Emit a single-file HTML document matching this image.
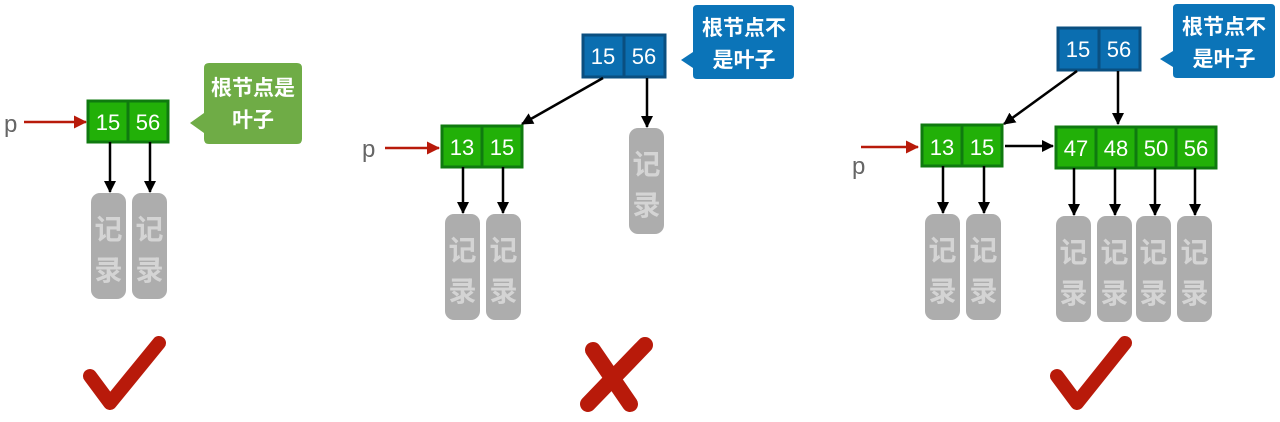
<!DOCTYPE html>
<html><head><meta charset="utf-8"><style>
html,body{margin:0;padding:0;background:#fff;width:1280px;height:422px;overflow:hidden}
svg{display:block}
.n{font-family:"Liberation Sans",sans-serif;font-size:22px;fill:#fff;text-anchor:middle}
.r{font-family:"Liberation Sans","Noto Sans CJK SC",sans-serif;font-size:28px;font-weight:bold;fill:#d4d4d4;text-anchor:middle}
.c{font-family:"Liberation Sans","Noto Sans CJK SC",sans-serif;font-size:21px;font-weight:bold;fill:#fff;text-anchor:middle}
.p{font-family:"Liberation Sans",sans-serif;font-size:24px;fill:#666}
</style></head><body>
<svg width="1280" height="422" viewBox="0 0 1280 422" xmlns="http://www.w3.org/2000/svg">
<defs>
<marker id="a" markerWidth="12" markerHeight="12" refX="11" refY="6" orient="auto" markerUnits="userSpaceOnUse"><path d="M0,0 L12,6 L0,12 z" fill="#000"/></marker>
<marker id="ra" markerWidth="13" markerHeight="13" refX="12" refY="6.5" orient="auto" markerUnits="userSpaceOnUse"><path d="M0,0 L13,6.5 L0,13 z" fill="#b81a0a"/></marker>
<g id="rec"><rect x="0" y="0" width="35" height="106" rx="9" fill="#adadad"/><text class="r" x="17.5" y="46">记</text><text class="r" x="17.5" y="87">录</text></g>
<g id="g"><rect x="0" y="0" width="40" height="41" fill="#22b008" stroke="#0f7a0f" stroke-width="3"/></g>
<g id="b"><rect x="0" y="0" width="41" height="42" fill="#0b6eb0" stroke="#0a4f80" stroke-width="3"/></g>
</defs>

<!-- Panel 1 -->
<text class="p" x="4" y="132">p</text>
<line x1="24" y1="122" x2="86" y2="122" stroke="#b81a0a" stroke-width="2.5" marker-end="url(#ra)"/>
<use href="#g" x="88" y="101"/><use href="#g" x="128" y="101"/>
<text class="n" x="108" y="130">15</text><text class="n" x="148" y="130">56</text>
<path d="M190,123 L204,113 L204,68 Q204,63 209,63 L297,63 Q302,63 302,68 L302,139 Q302,144 297,144 L209,144 Q204,144 204,139 L204,133 Z" fill="#6fac46"/>
<text class="c" x="253" y="95">根节点是</text><text class="c" x="253" y="127">叶子</text>
<line x1="110" y1="142" x2="110" y2="192" stroke="#000" stroke-width="2.5" marker-end="url(#a)"/>
<line x1="150" y1="142" x2="150" y2="192" stroke="#000" stroke-width="2.5" marker-end="url(#a)"/>
<use href="#rec" x="91" y="193"/><use href="#rec" x="132" y="193"/>
<path d="M90,376 L110,403 L159,343" fill="none" stroke="#b81a0a" stroke-width="14" stroke-linejoin="round" stroke-linecap="round"/>

<!-- Panel 2 -->
<use href="#b" x="583" y="35"/><use href="#b" x="624" y="35"/>
<text class="n" x="603" y="64">15</text><text class="n" x="644" y="64">56</text>
<path d="M681,60 L693,52 L693,9 Q693,5 697,5 L790,5 Q794,5 794,9 L794,75 Q794,79 790,79 L697,79 Q693,79 693,75 L693,68 Z" fill="#0b74b8"/>
<text class="c" x="744" y="35">根节点不</text><text class="c" x="744" y="67">是叶子</text>
<line x1="603" y1="78" x2="522" y2="124" stroke="#000" stroke-width="2.5" marker-end="url(#a)"/>
<line x1="647" y1="78" x2="647" y2="127" stroke="#000" stroke-width="2.5" marker-end="url(#a)"/>
<use href="#rec" x="629" y="128"/>
<text class="p" x="362" y="157">p</text>
<line x1="385" y1="148" x2="439" y2="148" stroke="#b81a0a" stroke-width="2.5" marker-end="url(#ra)"/>
<use href="#g" x="442" y="126"/><use href="#g" x="482" y="126"/>
<text class="n" x="462" y="155">13</text><text class="n" x="502" y="155">15</text>
<line x1="463" y1="167" x2="463" y2="213" stroke="#000" stroke-width="2.5" marker-end="url(#a)"/>
<line x1="503" y1="167" x2="503" y2="213" stroke="#000" stroke-width="2.5" marker-end="url(#a)"/>
<use href="#rec" x="445" y="214"/><use href="#rec" x="486" y="214"/>
<path d="M593,350 L630,404 M645,345 L588,404" fill="none" stroke="#b81a0a" stroke-width="16" stroke-linecap="round"/>

<!-- Panel 3 -->
<use href="#b" x="1058" y="28"/><use href="#b" x="1099" y="28"/>
<text class="n" x="1078" y="57">15</text><text class="n" x="1119" y="57">56</text>
<path d="M1160,59 L1173,51 L1173,8 Q1173,4 1177,4 L1271,4 Q1275,4 1275,8 L1275,74 Q1275,78 1271,78 L1177,78 Q1173,78 1173,74 L1173,67 Z" fill="#0b74b8"/>
<text class="c" x="1224" y="34">根节点不</text><text class="c" x="1224" y="66">是叶子</text>
<line x1="1077" y1="71" x2="1004" y2="124" stroke="#000" stroke-width="2.5" marker-end="url(#a)"/>
<line x1="1118" y1="71" x2="1118" y2="124" stroke="#000" stroke-width="2.5" marker-end="url(#a)"/>
<text class="p" x="852" y="174">p</text>
<line x1="861" y1="147" x2="918" y2="147" stroke="#b81a0a" stroke-width="2.5" marker-end="url(#ra)"/>
<use href="#g" x="922" y="125"/><use href="#g" x="962" y="125"/>
<text class="n" x="942" y="155">13</text><text class="n" x="982" y="155">15</text>
<line x1="1005" y1="146" x2="1053" y2="146" stroke="#000" stroke-width="2.5" marker-end="url(#a)"/>
<use href="#g" x="1056" y="127"/><use href="#g" x="1096" y="127"/><use href="#g" x="1136" y="127"/><use href="#g" x="1176" y="127"/>
<text class="n" x="1076" y="156">47</text><text class="n" x="1116" y="156">48</text><text class="n" x="1156" y="156">50</text><text class="n" x="1196" y="156">56</text>
<line x1="943" y1="166" x2="943" y2="213" stroke="#000" stroke-width="2.5" marker-end="url(#a)"/>
<line x1="984" y1="166" x2="984" y2="213" stroke="#000" stroke-width="2.5" marker-end="url(#a)"/>
<use href="#rec" x="925" y="214"/><use href="#rec" x="966" y="214"/>
<line x1="1074" y1="168" x2="1074" y2="215" stroke="#000" stroke-width="2.5" marker-end="url(#a)"/>
<line x1="1115" y1="168" x2="1115" y2="215" stroke="#000" stroke-width="2.5" marker-end="url(#a)"/>
<line x1="1155" y1="168" x2="1155" y2="215" stroke="#000" stroke-width="2.5" marker-end="url(#a)"/>
<line x1="1195" y1="168" x2="1195" y2="215" stroke="#000" stroke-width="2.5" marker-end="url(#a)"/>
<use href="#rec" x="1056" y="216"/><use href="#rec" x="1097" y="216"/><use href="#rec" x="1136" y="216"/><use href="#rec" x="1177" y="216"/>
<path d="M1057,376 L1077,403 L1125,343" fill="none" stroke="#b81a0a" stroke-width="14" stroke-linejoin="round" stroke-linecap="round"/>
</svg>
</body></html>
